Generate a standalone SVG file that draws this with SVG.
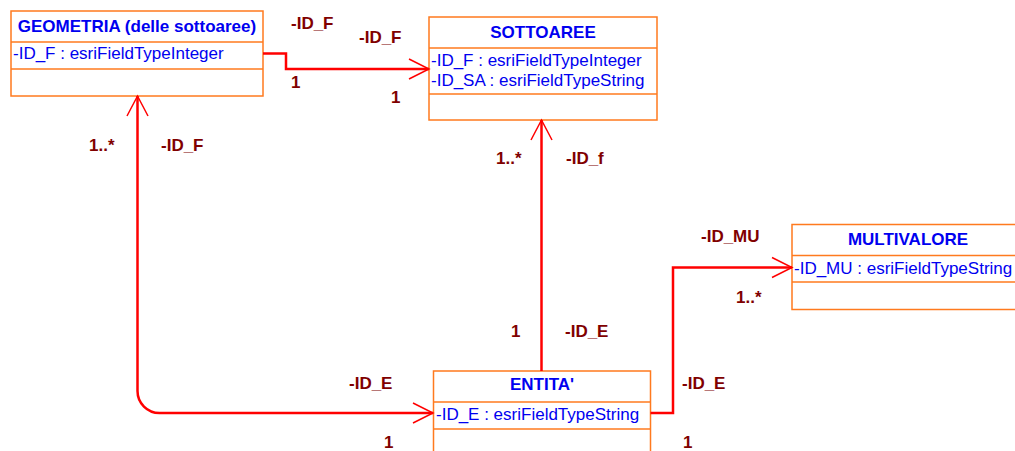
<svg xmlns="http://www.w3.org/2000/svg" width="1015" height="451" viewBox="0 0 1015 451">
<style>
.box{fill:#fff;stroke:#FF7A1E;stroke-width:1.5}
.sep{stroke:#FF7A1E;stroke-width:1.5}
.hdr{font-family:"Liberation Sans",Arial,sans-serif;font-size:17px;font-weight:bold;fill:#0000F0;text-anchor:middle}
.att{font-family:"Liberation Sans",Arial,sans-serif;font-size:17px;fill:#0000F0}
.lbl{font-family:"Liberation Sans",Arial,sans-serif;font-size:17px;font-weight:bold;fill:#800000}
.con{fill:none;stroke:#FF0000;stroke-width:2.5}
.arr{fill:none;stroke:#FF0000;stroke-width:1.5}
</style>
<rect width="1015" height="451" fill="#fff"/>
<g id="geometria">
<rect class="box" x="11" y="11" width="252" height="85"/>
<line class="sep" x1="11" y1="42" x2="263" y2="42"/>
<line class="sep" x1="11" y1="69" x2="263" y2="69"/>
<text class="hdr" x="137" y="31.5">GEOMETRIA (delle sottoaree)</text>
<text class="att" x="13" y="59">-ID_F : esriFieldTypeInteger</text>
</g>
<g id="sottoaree">
<rect class="box" x="429" y="17" width="228" height="103"/>
<line class="sep" x1="429" y1="48" x2="657" y2="48"/>
<line class="sep" x1="429" y1="94" x2="657" y2="94"/>
<text class="hdr" x="543" y="37.5">SOTTOAREE</text>
<text class="att" x="431" y="66">-ID_F : esriFieldTypeInteger</text>
<text class="att" x="431" y="86">-ID_SA : esriFieldTypeString</text>
</g>
<g id="multivalore">
<rect class="box" x="792" y="224.5" width="232" height="85"/>
<line class="sep" x1="792" y1="255.5" x2="1024" y2="255.5"/>
<line class="sep" x1="792" y1="282" x2="1024" y2="282"/>
<text class="hdr" x="908" y="245">MULTIVALORE</text>
<text class="att" x="794" y="273.5">-ID_MU : esriFieldTypeString</text>
</g>
<g id="entita">
<rect class="box" x="433.5" y="371" width="217" height="100"/>
<line class="sep" x1="433.5" y1="402" x2="650.5" y2="402"/>
<line class="sep" x1="433.5" y1="429" x2="650.5" y2="429"/>
<text class="hdr" x="542" y="390">ENTITA'</text>
<text class="att" x="436" y="420">-ID_E : esriFieldTypeString</text>
</g>
<g id="connectors">
<path class="con" d="M263 53.5 H286 V69 H429"/>
<path class="arr" d="M409 59 L429 69 L409 79"/>
<path class="con" d="M137.5 96 V391 A22 22 0 0 0 159.5 413 H433"/>
<path class="arr" d="M127 116 L137.5 96 L148 116"/>
<path class="arr" d="M413 403 L433 413 L413 423"/>
<path class="con" d="M541.5 371 V120"/>
<path class="arr" d="M531 140 L541.5 120 L552 140"/>
<path class="con" d="M650.5 413 H673 V267.5 H792"/>
<path class="arr" d="M772 257.5 L792 267.5 L772 277.5"/>
</g>
<g id="labels">
<text class="lbl" x="291" y="28.5">-ID_F</text>
<text class="lbl" x="359" y="43">-ID_F</text>
<text class="lbl" x="291" y="88">1</text>
<text class="lbl" x="391" y="102.5">1</text>
<text class="lbl" x="89" y="150.5">1..*</text>
<text class="lbl" x="161" y="150.5">-ID_F</text>
<text class="lbl" x="496" y="164">1..*</text>
<text class="lbl" x="566" y="164">-ID_f</text>
<text class="lbl" x="701" y="241.5">-ID_MU</text>
<text class="lbl" x="736" y="303">1..*</text>
<text class="lbl" x="511" y="337">1</text>
<text class="lbl" x="565" y="337">-ID_E</text>
<text class="lbl" x="349" y="389">-ID_E</text>
<text class="lbl" x="682" y="389">-ID_E</text>
<text class="lbl" x="384" y="447.5">1</text>
<text class="lbl" x="683" y="447.5">1</text>
</g>
</svg>
